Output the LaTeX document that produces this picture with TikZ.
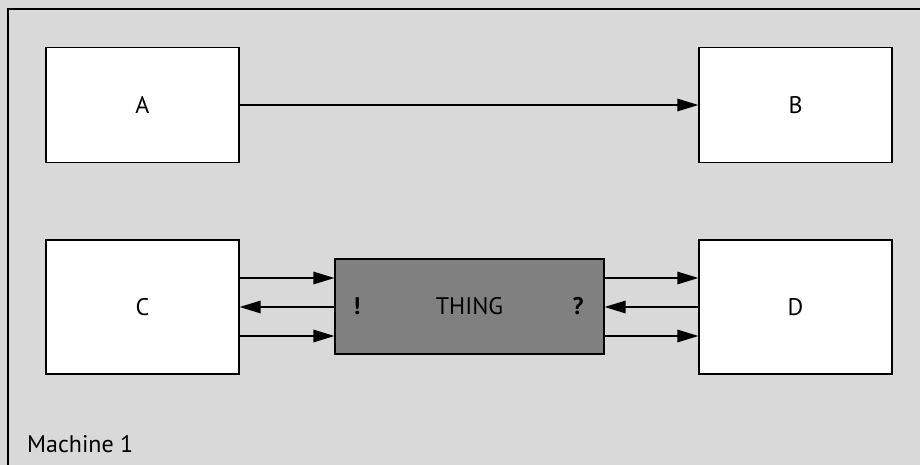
\documentclass[tikz,border=0pt]{standalone}
\usepackage{fontspec}
\setmainfont{PT Sans}
\usetikzlibrary{arrows.meta}
\definecolor{framegray}{HTML}{D9D9D9}
\definecolor{thinggray}{HTML}{808080}
\begin{document}
\begin{tikzpicture}[x=1pt,y=-1pt,
  box/.style={draw=black,line width=1.2pt,fill=white,minimum width=193pt,minimum height=115pt,inner sep=0pt,font=\fontsize{24}{28}\selectfont},
  thingbox/.style={draw=black,line width=1.2pt,fill=thinggray,minimum width=269pt,minimum height=95pt,inner sep=0pt,font=\fontsize{24}{28}\selectfont},
  conn/.style={line width=1.4pt,-{Triangle[length=21pt,width=12.5pt]}},
  lbl/.style={font=\fontsize{24}{28}\selectfont,inner sep=0pt}
]
\useasboundingbox (0,0) rectangle (920,465);
\fill[framegray] (0,0) rectangle (920,465);
\fill[framegray] (8,9) rectangle (930,475);
\draw[line width=1.3pt] (8,475) -- (8,9) -- (930,9);

\node[box] (A) at (142.5,105) {A};
\node[box] (B) at (795.5,105) {B};
\node[box,minimum height=134pt] (C) at (142.5,307) {C};
\node[box,minimum height=134pt] (D) at (795.5,307) {D};
\node[thingbox] (T) at (469.5,306.5) {THING};
\node[lbl,font=\fontsize{24}{28}\selectfont\bfseries] (ex) at (357,306) {!};
\node[lbl,font=\fontsize{24}{28}\selectfont\bfseries] (qu) at (578,306) {?};
\node[lbl,anchor=base west] (M) at (27,452) {Machine 1};

\draw[conn] (A.east) -- (B.west);

\draw[conn] (C.east |- 0,278) -- (T.west |- 0,278);
\draw[conn] (T.west |- 0,307) -- (C.east |- 0,307);
\draw[conn] (C.east |- 0,336) -- (T.west |- 0,336);

\draw[conn] (T.east |- 0,278) -- (D.west |- 0,278);
\draw[conn] (D.west |- 0,307) -- (T.east |- 0,307);
\draw[conn] (T.east |- 0,336) -- (D.west |- 0,336);
\end{tikzpicture}
\end{document}
